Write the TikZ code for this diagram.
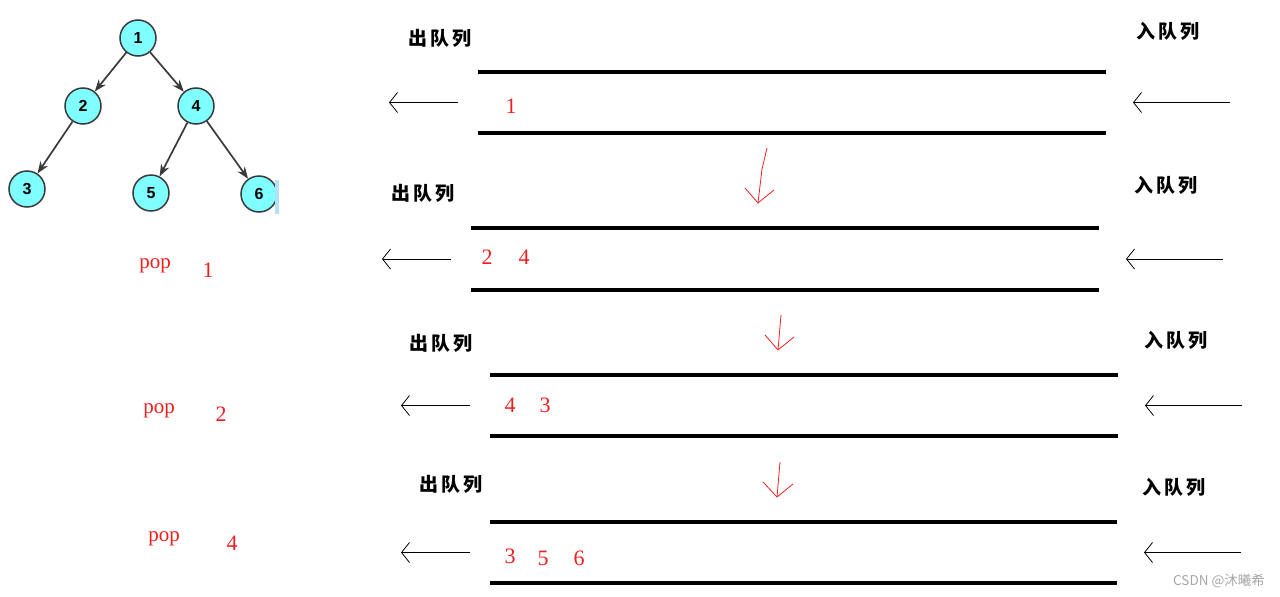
\documentclass[tikz,border=0pt]{standalone}
\usepackage{fontspec}
\setmainfont{Liberation Serif}
\setsansfont{Liberation Sans}
\newfontfamily\cjk{Noto Sans CJK SC}
\usetikzlibrary{arrows.meta,positioning}
\definecolor{nodecyan}{HTML}{7FFFFF}
\definecolor{edgegray}{HTML}{3A3A3A}
\definecolor{popred}{HTML}{F01E1E}
\definecolor{selblue}{HTML}{B4E0FA}
\tikzset{
    % tree nodes
    treenode/.style={
           circle, draw=edgegray, line width=1.5pt, fill=nodecyan,
           minimum size=36pt, inner sep=0pt,
           font=\sffamily\bfseries\fontsize{16}{16}\selectfont},
    % tree edges
    treeedge/.style={
           -{Stealth[length=12pt,width=9pt]},
           draw=edgegray, line width=1.7pt},
    % queue walls
    wall/.style={line width=4pt},
    % in and out arrows
    flow/.style={
           -{Straight Barb[length=8pt,width=20pt]},
           line width=0.8pt},
    % labels
    qlabel/.style={font=\cjk\bfseries\fontsize{19}{19}\selectfont},
    qnum/.style={text=popred, font=\fontsize{22}{22}\selectfont},
    poptext/.style={text=popred, font=\fontsize{21}{21}\selectfont},
    % hand drawn arrows
    handred/.style={draw=popred, line width=0.8pt, line join=round}
}
\begin{document}
\begin{tikzpicture}[x=1pt,y=-1pt]
    \useasboundingbox (0,0) rectangle (1280,597);

    % tree
    \node[treenode] (n1) at (138,38) {1};
    \node[treenode] (n2) at (83,106) {2};
    \node[treenode] (n4) at (196,106) {4};
    \node[treenode] (n3) at (27,189) {3};
    \node[treenode] (n5) at (151,193) {5};
    \node[treenode] (n6) at (259,194) {6};
    \fill[selblue] (275,180) rectangle (279,214);

    % tree edges
    \path[treeedge] (n1) edge (n2)
                    (n1) edge (n4)
                    (n2) edge (n3)
                    (n4) edge (n5)
                    (n4) edge (n6);

    % pops
    \node[poptext] (pop1) at (155,266) {pop};
    \node[qnum] (out1) at (208,270) {1};
    \node[poptext] (pop2) at (159,411) {pop};
    \node[qnum] (out2) at (221,414) {2};
    \node[poptext] (pop3) at (164,539) {pop};
    \node[qnum] (out3) at (232,543) {4};

    % queues
    \foreach \i/\xl/\xr/\yt/\yb/\ox/\oy/\ix/\iy in {
            1/478/1106/72/133/440/38/1168/31,
            2/471/1099/228/290/423/193/1166/185,
            3/490/1118/375/436/441/343/1176/340,
            4/490/1117/522/583/451/484/1174/487}{
        \draw[wall] (\xl,\yt) -- (\xr,\yt);
        \draw[wall] (\xl,\yb) -- (\xr,\yb);
        \node[qlabel] (deq\i) at (\ox,\oy) {出\,队\,列};
        \node[qlabel] (enq\i) at (\ix,\iy) {入\,队\,列};
        \coordinate (outs\i) at (\xl-20,{(\yt+\yb)/2});
        \coordinate (oute\i) at (\xl-89,{(\yt+\yb)/2});
        \coordinate (ins\i) at (\xr+124,{(\yt+\yb)/2});
        \coordinate (ine\i) at (\xr+27,{(\yt+\yb)/2});
        \draw[flow] (outs\i) -- (oute\i);
        \draw[flow] (ins\i) -- (ine\i);
    }

    % queue contents
    \node[qnum] (qa1) at (511,106) {1};
    \node[qnum] (qb1) at (487,257) {2};
    \node[qnum] (qb2) at (524,257) {4};
    \node[qnum] (qc1) at (510,405) {4};
    \node[qnum] (qc2) at (545,405) {3};
    \node[qnum] (qd1) at (510,556) {3};
    \node[qnum] (qd2) at (543,558) {5};
    \node[qnum] (qd3) at (579,558) {6};

    % steps
    \draw[handred] (767,148) -- (762,169) -- (758,203);
    \draw[handred] (745,188) -- (758,203) -- (774,190);
    \draw[handred] (781,315) -- (778,350);
    \draw[handred] (765,335) -- (778,350) -- (794,337);
    \draw[handred] (780,462) -- (777,497);
    \draw[handred] (763,482) -- (777,497) -- (793,484);

    % watermark
    \node[text=gray!70, font=\cjk\fontsize{13.5}{13.5}\selectfont] (mark) at (1219,581) {CSDN @沐曦希};
\end{tikzpicture}
\end{document}
